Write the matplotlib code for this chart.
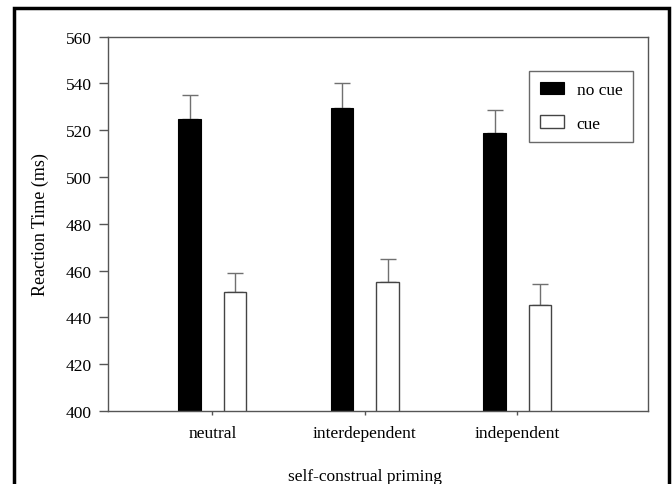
import matplotlib
matplotlib.use("Agg")
import matplotlib.pyplot as plt
from matplotlib.patches import Rectangle
import matplotlib.transforms as mtransforms
import numpy as np

categories = ["neutral", "interdependent", "independent"]
no_cue = [525.0, 529.5, 519.0]
no_cue_err = [10.0, 10.5, 9.5]
cue = [451.0, 455.0, 445.5]
cue_err = [7.8, 10.0, 9.0]
yticks = [400, 420, 440, 460, 480, 500, 520, 540, 560]

plt.rcParams['font.family'] = ['Liberation Serif', 'DejaVu Serif']

fig = plt.figure(figsize=(6.72, 4.85), dpi=100)
W, H = 672, 485
ax = fig.add_axes([108 / W, 1 - 412 / H, 540 / W, 374.3 / H])

x = np.arange(1, len(categories) + 1)
bw = 0.149
off = 0.149
spine_col = "#555555"
err_col = "#707070"
fs = 12.5

ax.bar(x - off, no_cue, width=bw, color="black", edgecolor="black",
       linewidth=0.8, label="no cue", zorder=2)
ax.bar(x + off, cue, width=bw, color="white", edgecolor="#444444",
       linewidth=1.0, label="cue", zorder=2)
ax.errorbar(x - off, no_cue, yerr=[[0] * 3, no_cue_err], fmt="none",
            ecolor=err_col, elinewidth=1.0, capsize=6, capthick=1.0, zorder=1)
ax.errorbar(x + off, cue, yerr=[[0] * 3, cue_err], fmt="none",
            ecolor=err_col, elinewidth=1.0, capsize=6, capthick=1.0, zorder=1)

ax.set_xlim(0.316, 3.857)
ax.set_ylim(400, 560)
ax.set_yticks(yticks)
ax.set_xticks(x)
ax.set_xticklabels(categories)
for s in ax.spines.values():
    s.set_color(spine_col)
    s.set_linewidth(1.0)
ax.tick_params(axis="y", direction="out", length=6.5, width=1.0, color=spine_col,
               labelsize=fs, pad=5)
ax.tick_params(axis="x", direction="out", length=3, width=1.0, color=spine_col,
               labelsize=fs, pad=7)
ax.set_ylabel("Reaction Time (ms)", fontsize=13, labelpad=12)
ax.set_xlabel("self-construal priming", fontsize=fs)
# x label centred under the middle category
trans = mtransforms.blended_transform_factory(ax.transData, fig.transFigure)
ax.xaxis.set_label_coords(2, 1 - 477 / H, transform=trans)
ax.xaxis.label.set_va("center")

leg = ax.legend(loc="upper right", bbox_to_anchor=((632.7 - 108) / 540, (412 - 72.3) / 374.3),
                frameon=True, fancybox=False, fontsize=fs, handlelength=1.38,
                handleheight=0.75, handletextpad=0.75, borderpad=0.6, labelspacing=1.0,
                borderaxespad=0)
leg.get_frame().set_edgecolor("#444444")
leg.get_frame().set_linewidth(1.0)

# outer frame
fig.add_artist(Rectangle((14 / W, -0.05), (669 - 14) / W, 1.05 - 9 / H,
                         transform=fig.transFigure, fill=False,
                         edgecolor="black", linewidth=2.5, clip_on=False))

fig.savefig("out.png", dpi=100)
